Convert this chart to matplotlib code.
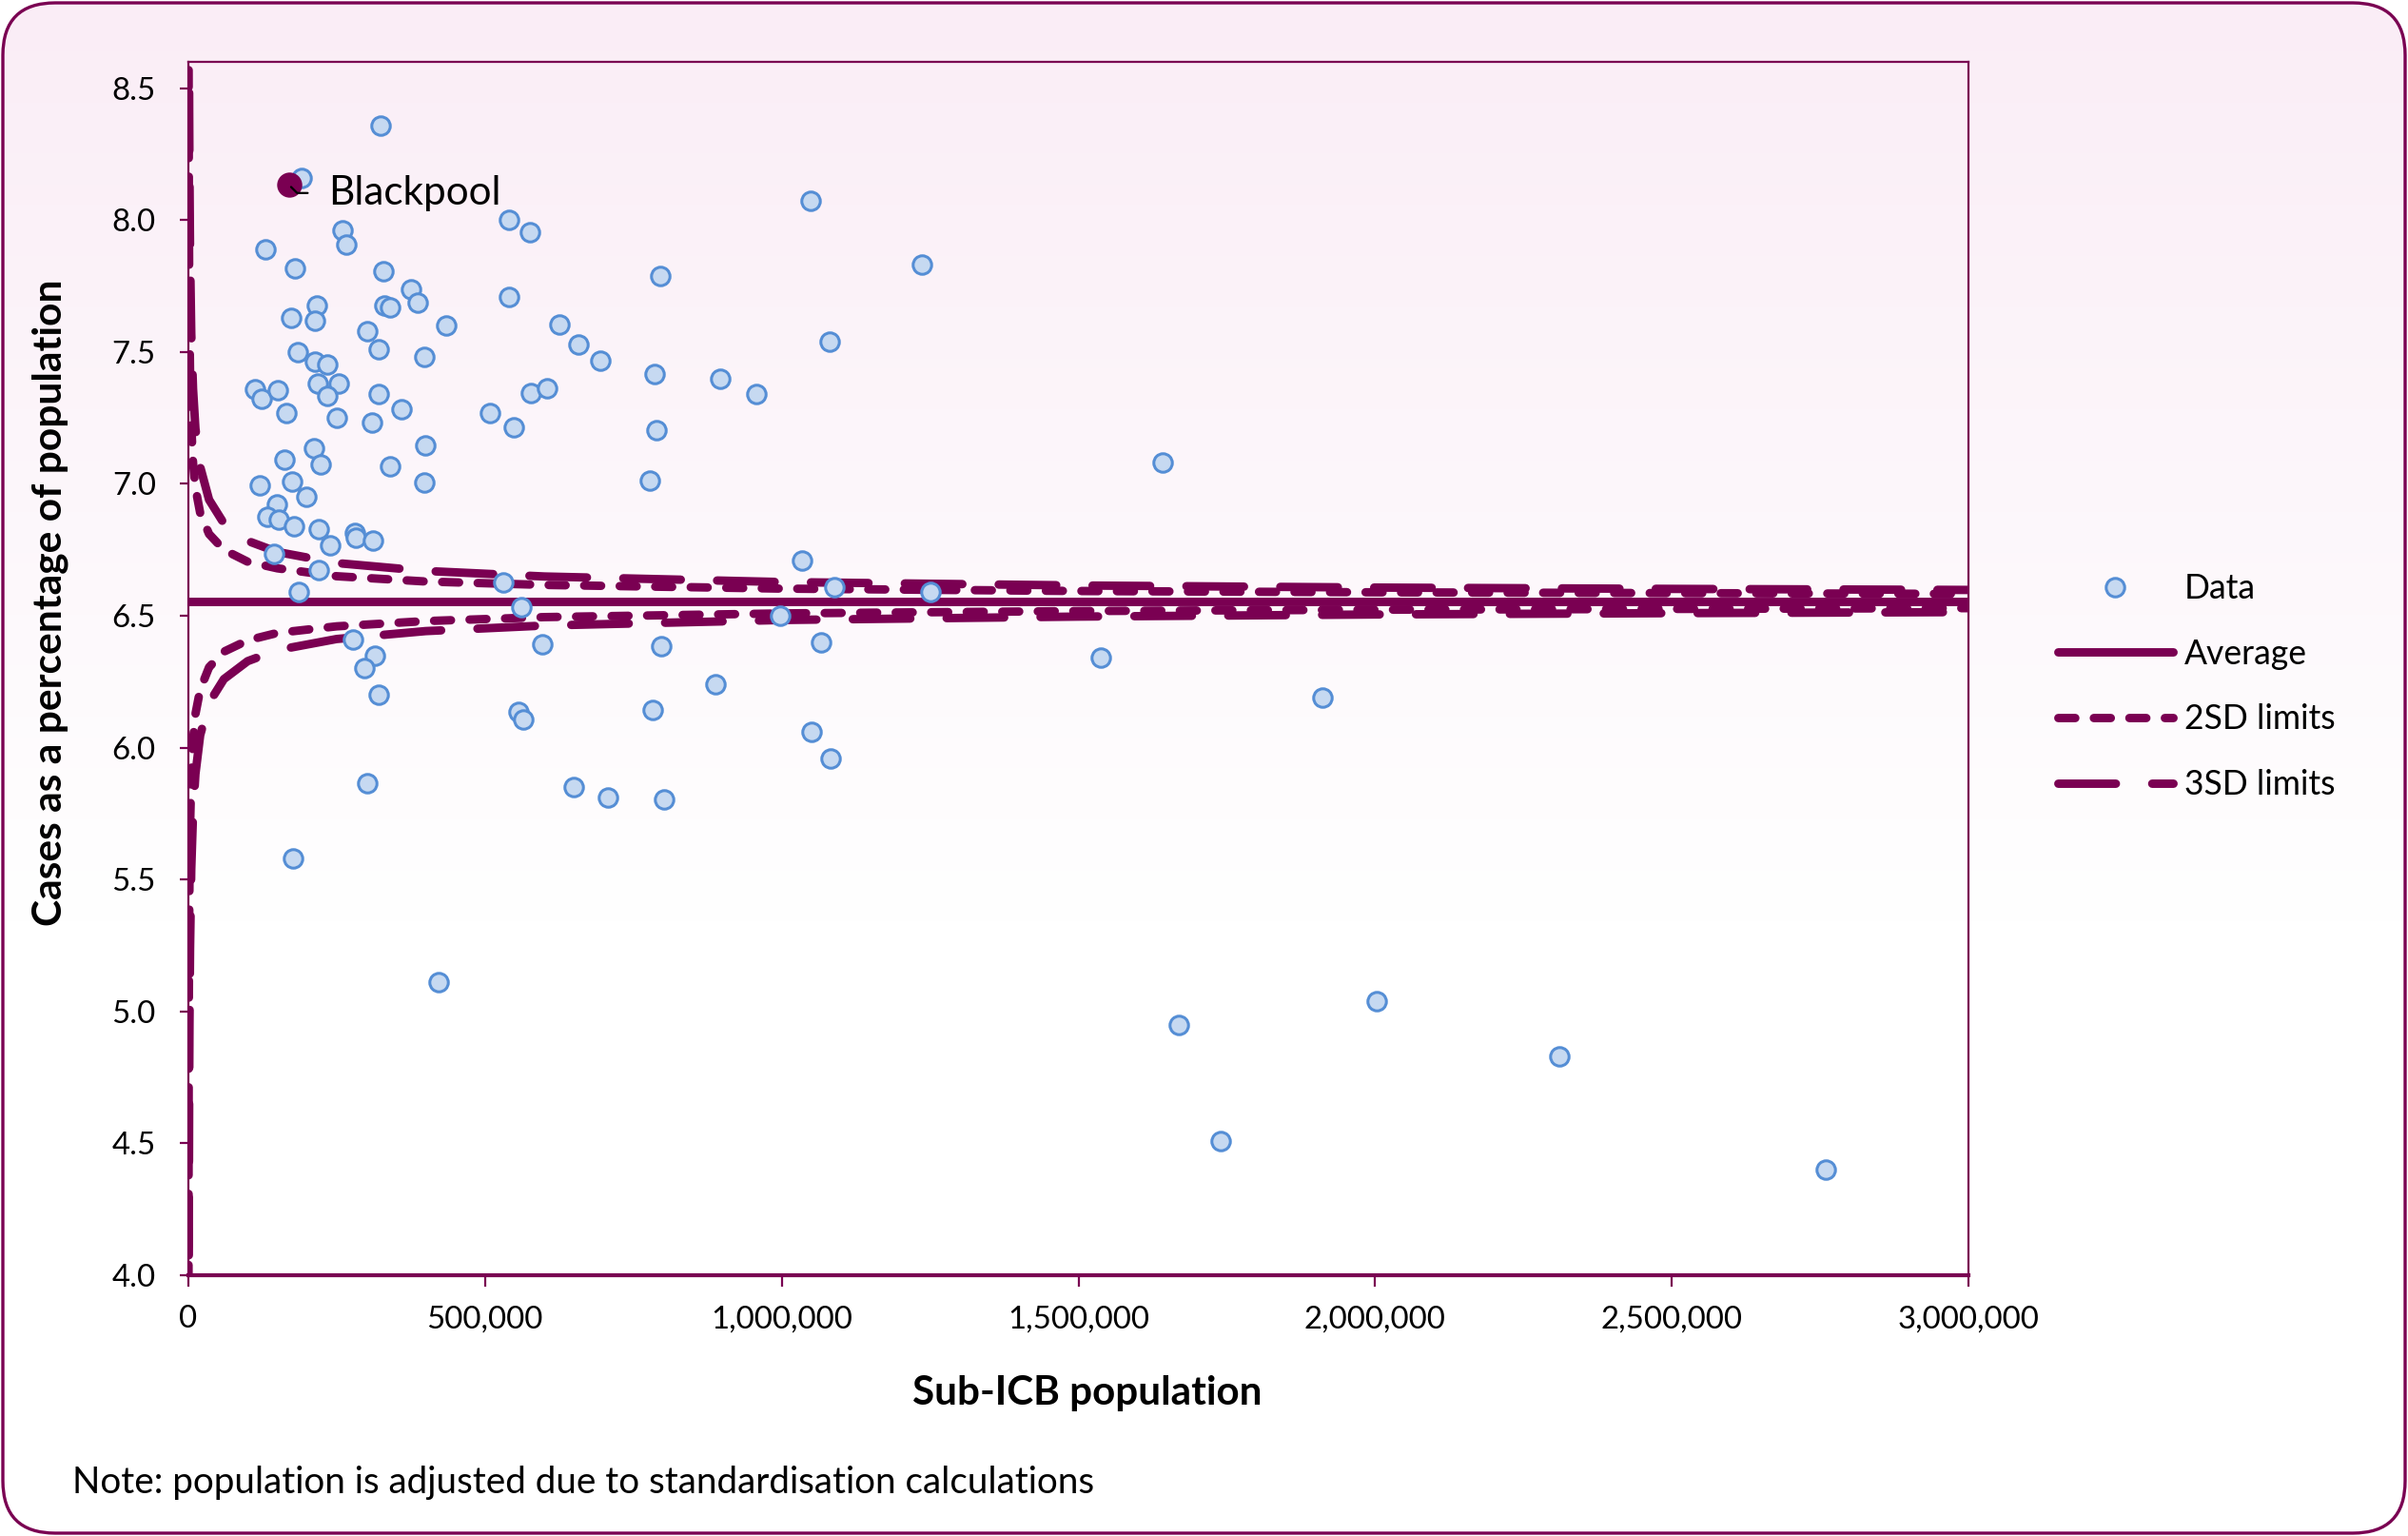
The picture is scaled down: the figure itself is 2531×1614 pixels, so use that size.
import numpy as np
import matplotlib.pyplot as plt
from matplotlib.patches import FancyBboxPatch
from matplotlib.transforms import IdentityTransform
from matplotlib.lines import Line2D
from matplotlib.ticker import FuncFormatter, MultipleLocator

plt.rcParams['font.family'] = ['Lato', 'DejaVu Sans']

# --- data ---
# sub-ICB population (thousands) and cases as % of population
pop_k = [323.5, 190.8, 259.7, 265.6, 541, 575, 130, 179, 328, 376,
         386, 541, 216, 212.6, 174, 330, 340, 434, 625, 658,
         695, 302, 320, 397, 184, 214, 235, 112, 123, 151,
         218.5, 254, 235, 320, 358.6, 164.6, 249.6, 310, 507.7, 549,
         576.6, 604, 400, 211, 222.7, 162.7, 340, 397, 121, 175.5,
         199.6, 148.6, 132.6, 152.8, 177.5, 219, 280, 281.6, 311.5, 239.7,
         145, 220.5, 185.9, 531, 561, 276.8, 313.7, 296, 320, 597,
         557, 565, 302, 176.6, 650, 707.7, 801.6, 783, 797.6, 1048,
         1235.6, 795, 785.5, 897, 958, 1080, 789.6, 778.4, 1641.5, 1035,
         1089, 1250, 998, 1066, 1537, 888, 1912, 1051, 1082, 422,
         2003, 1669, 2311, 1739, 2759]
pct = [8.36, 8.16, 7.96, 7.907, 8.00, 7.953, 7.89, 7.817, 7.805, 7.739,
       7.686, 7.71, 7.676, 7.618, 7.63, 7.676, 7.67, 7.60, 7.604, 7.529,
       7.466, 7.579, 7.512, 7.483, 7.499, 7.463, 7.453, 7.36, 7.323, 7.357,
       7.379, 7.381, 7.335, 7.34, 7.282, 7.267, 7.251, 7.232, 7.267, 7.215,
       7.343, 7.362, 7.146, 7.134, 7.074, 7.092, 7.066, 7.004, 6.995, 7.008,
       6.953, 6.922, 6.874, 6.866, 6.841, 6.83, 6.815, 6.796, 6.787, 6.769,
       6.733, 6.675, 6.592, 6.625, 6.531, 6.409, 6.348, 6.303, 6.20, 6.393,
       6.135, 6.108, 5.866, 5.581, 5.851, 5.812, 5.805, 6.144, 6.386, 8.073,
       7.831, 7.788, 7.416, 7.398, 7.34, 7.541, 7.205, 7.011, 7.082, 6.71,
       6.61, 6.59, 6.50, 6.40, 6.34, 6.24, 6.19, 6.06, 5.96, 5.11,
       5.04, 4.95, 4.83, 4.51, 4.40]
population = np.array(pop_k) * 1000

blackpool_pop = 170000
blackpool_pct = 8.133

average = 6.556

# control limits
lim_pop = [300, 500, 700, 1000, 1500, 2000, 3000, 5000, 8000, 12000,
           20000, 35000, 60000, 100000, 150000, 250000, 400000, 600000,
           1000000, 1500000, 2000000, 2500000, 3000000]
sd2_upper = [9.27, 8.66, 8.33, 8.04, 7.77, 7.61, 7.41, 7.22, 7.08, 6.985,
             6.89, 6.81, 6.75, 6.705, 6.68, 6.65, 6.63, 6.617,
             6.603, 6.594, 6.589, 6.586, 6.583]
sd2_lower = [3.84, 4.46, 4.78, 5.07, 5.34, 5.50, 5.70, 5.89, 6.03, 6.127,
             6.22, 6.305, 6.364, 6.407, 6.435, 6.46, 6.48, 6.495,
             6.509, 6.518, 6.523, 6.526, 6.529]
sd3_upper = [10.7, 9.78, 9.28, 8.83, 8.415, 8.17, 7.87, 7.57, 7.36, 7.21,
             7.065, 6.94, 6.85, 6.784, 6.742, 6.70, 6.67, 6.649,
             6.628, 6.615, 6.607, 6.602, 6.598]
sd3_lower = [2.4, 3.34, 3.84, 4.28, 4.70, 4.95, 5.24, 5.54, 5.75, 5.90,
             6.047, 6.17, 6.26, 6.328, 6.37, 6.412, 6.442, 6.463,
             6.484, 6.497, 6.505, 6.51, 6.514]

purple = '#7A0052'
fill_blue = '#C6D9F1'
edge_blue = '#558ED5'

fig = plt.figure(figsize=(12.655, 8.07), dpi=200)

# background gradient + rounded frame
bg = fig.add_axes([0, 0, 1, 1], zorder=-10)
bg.set_axis_off()
t = np.linspace(0, 1, 300)
w = np.clip(1 - t / 0.6, 0, 1)[:, None]
top = np.array([250, 237, 246]) / 255
grad = (w * top + (1 - w))[:, None, :]
im = bg.imshow(grad, aspect='auto', extent=[0, 1, 0, 1], origin='upper')
bg.set_xlim(0, 1)
bg.set_ylim(0, 1)
frame = FancyBboxPatch((3, 3), 2525, 1608, boxstyle='round,pad=0,rounding_size=55',
                       transform=IdentityTransform(), fill=False, ec=purple, lw=1.2)
fig.add_artist(frame)
im.set_clip_path(frame)

ax = fig.add_axes([0.0782, 0.1698, 0.7393, 0.7899])
ax.set_facecolor('none')

lw = 3.2
ax.axhline(average, color=purple, lw=lw, zorder=3)
ax.plot(lim_pop, sd2_upper, color=purple, lw=lw, ls=(0, (2.0, 2.2)),
        dash_capstyle='round', zorder=3)
ax.plot(lim_pop, sd2_lower, color=purple, lw=lw, ls=(0, (2.0, 2.2)),
        dash_capstyle='round', zorder=3)
ax.plot(lim_pop, sd3_upper, color=purple, lw=lw, ls=(0, (6.8, 4.3)),
        dash_capstyle='round', zorder=3)
ax.plot(lim_pop, sd3_lower, color=purple, lw=lw, ls=(0, (6.8, 4.3)),
        dash_capstyle='round', zorder=3)

ax.plot(population, pct, 'o', ls='none', ms=7.0, mfc=fill_blue, mec=edge_blue,
        mew=1.1, zorder=5)
ax.plot(blackpool_pop, blackpool_pct, 'o', ms=8.5, color=purple, zorder=6)
ax.annotate('Blackpool', xy=(blackpool_pop, blackpool_pct), xytext=(15, -3),
            textcoords='offset points', ha='left', va='center', fontsize=15.2,
            zorder=7,
            arrowprops=dict(arrowstyle='-', color='black', lw=0.8, shrinkA=6,
                            shrinkB=1, relpos=(0, 0.5),
                            connectionstyle='angle,angleA=0,angleB=-45,rad=0'))

ax.set_xlim(0, 3000000)
ax.set_ylim(4.0, 8.6)
ax.xaxis.set_major_locator(MultipleLocator(500000))
ax.yaxis.set_major_locator(MultipleLocator(0.5))
ax.xaxis.set_major_formatter(FuncFormatter(lambda v, p: f'{v:,.0f}'))
ax.yaxis.set_major_formatter(FuncFormatter(lambda v, p: f'{v:.1f}'))

for side in ['top', 'right', 'left']:
    ax.spines[side].set_color(purple)
    ax.spines[side].set_linewidth(0.8)
ax.spines['bottom'].set_color(purple)
ax.spines['bottom'].set_linewidth(1.5)
ax.tick_params(axis='y', direction='out', length=3.3, width=0.8, color=purple,
               labelsize=11.9, pad=9)
ax.tick_params(axis='x', direction='out', length=4.3, width=0.8, color=purple,
               labelsize=11.9, pad=7)

ax.set_xlabel('Sub-ICB population', fontsize=15.2, fontweight='bold')
ax.xaxis.set_label_coords(0.505, -0.097)
ax.xaxis.label.set_va('center')
ax.set_ylabel('Cases as a percentage of population', fontsize=15.3, fontweight='bold')
ax.yaxis.set_label_coords(-0.0775, 0.554)
ax.yaxis.label.set_va('center')

handles = [
    Line2D([], [], marker='o', ls='none', ms=7.0, mfc=fill_blue, mec=edge_blue, mew=1.1),
    Line2D([], [], color=purple, lw=lw, solid_capstyle='round'),
    Line2D([], [], color=purple, lw=lw, ls=(0, (2.0, 2.2)), dash_capstyle='round'),
    Line2D([], [], color=purple, lw=lw, ls=(0, (6.8, 4.3)), dash_capstyle='round'),
]
labels = ['Data', 'Average', '2SD limits', '3SD limits']
fig.legend(handles, labels, loc='upper left', bbox_to_anchor=(0.8546, 0.6268),
           frameon=False, fontsize=12.8, handlelength=3.4, handletextpad=0.33,
           labelspacing=1.0, borderpad=0, borderaxespad=0)

fig.text(0.030, 0.0347, 'Note: population is adjusted due to standardisation calculations',
         fontsize=13.9, va='center', ha='left')

plt.savefig('out.png', dpi=200)
